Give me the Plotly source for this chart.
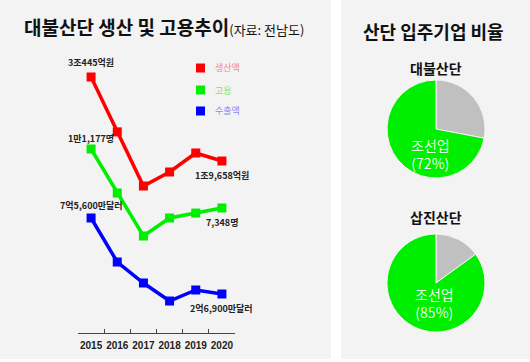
import plotly.graph_objects as go

W, H = 530, 362

years = ["2015", "2016", "2017", "2018", "2019", "2020"]
production = [30445, 23400, 16450, 18250, 20690, 19658]   # 억원
employment = [11177, 8320, 5530, 6700, 7020, 7348]        # 명
exports = [75600, 47400, 33950, 22400, 29460, 26900]      # 만달러

series_names = ["생산액", "고용", "수출액"]
series_colors = ["#ff0000", "#00ee00", "#0000ff"]
legend_text_colors = ["#f08a8a", "#7fe07f", "#8a8af0"]

first_labels = ["3조445억원", "1만1,177명", "7억5,600만달러"]
last_labels = ["1조9,658억원", "7,348명", "2억6,900만달러"]

pie_titles = ["대불산단", "삽진산단"]
pie_labels = ["기타", "조선업"]
pie_values = [[28, 72], [15, 85]]
pie_colors = ["#c0c0c0", "#00ee00"]

FONT = "Noto Sans CJK KR"


def px(x):
    return x / W


def py(y):
    return 1 - y / H


fig = go.Figure()

axes = ["y", "y2", "y3"]
data = [production, employment, exports]
for name, vals, col, ax in zip(series_names, data, series_colors, axes):
    fig.add_trace(go.Scatter(
        x=years, y=vals, yaxis=ax, mode="lines+markers", name=name,
        line=dict(color=col, width=3.5),
        marker=dict(symbol="square", size=9, color=col),
        showlegend=False, hoverinfo="skip"))

# pies
pie_centers = [(436, 129), (436, 283)]
R = 49
for i, (vals, (cx, cy)) in enumerate(zip(pie_values, pie_centers)):
    fig.add_trace(go.Pie(
        labels=pie_labels, values=vals, sort=False, direction="clockwise",
        rotation=0, textinfo="none", showlegend=False, hoverinfo="skip",
        marker=dict(colors=pie_colors, line=dict(color="#f4f4f4", width=1)),
        domain=dict(x=[px(cx - R), px(cx + R)], y=[py(cy + R), py(cy - R)])))

shapes = [
    dict(type="rect", xref="paper", yref="paper", x0=px(0), x1=px(331),
         y0=py(359), y1=py(0), fillcolor="#f3f3f3", line=dict(width=0), layer="below"),
    dict(type="rect", xref="paper", yref="paper", x0=px(341), x1=px(530),
         y0=py(359), y1=py(0), fillcolor="#f3f3f3", line=dict(width=0), layer="below"),
]

annotations = []


def ann(x, y, text, size, color="#111", xanchor="center", **kw):
    d = dict(xref="paper", yref="paper", x=px(x), y=py(y), xanchor=xanchor,
             yanchor="middle", showarrow=False, text=text,
             font=dict(family=FONT, size=size, color=color))
    d.update(kw)
    annotations.append(d)


# titles
ann(22, 27, "<b>대불산단 생산 및 고용추이</b><span style='font-size:13px'>(자료: 전남도)</span>",
    19, xanchor="left")
ann(433, 31, "<b>산단 입주기업 비율</b>", 18)

# legend
legend_y = [68, 90, 111]
for name, col, tcol, ly in zip(series_names, series_colors, legend_text_colors, legend_y):
    shapes.append(dict(type="rect", xref="paper", yref="paper",
                       x0=px(196), x1=px(205), y0=py(ly + 4.5), y1=py(ly - 4.5),
                       fillcolor=col, line=dict(width=0)))
    ann(213, ly, name, 9, color=tcol, xanchor="left")

# data labels (category axis: use category index)
first_shift = [14, 10, 12]
last_shift = [-14, -15, -14]
for vals, ax, fl, ll, fs, ls in zip(data, axes, first_labels, last_labels, first_shift, last_shift):
    annotations.append(dict(xref="x", yref=ax, x=0, y=vals[0], yshift=fs,
                            xanchor="center", yanchor="middle",
                            showarrow=False, text="<b>" + fl + "</b>",
                            font=dict(family=FONT, size=9, color="#222")))
    annotations.append(dict(xref="x", yref=ax, x=len(years) - 1, y=vals[-1], yshift=ls,
                            xanchor="center", yanchor="middle",
                            showarrow=False, text="<b>" + ll + "</b>",
                            font=dict(family=FONT, size=9, color="#222")))

# pie titles and labels
pie_title_y = [68, 217]
pie_text_y = [154, 303]
pie_text_x = [430, 434]
for t, ty, vals, tyy, tx in zip(pie_titles, pie_title_y, pie_values, pie_text_y, pie_text_x):
    ann(436, ty, "<b>" + t + "</b>", 14)
    ann(tx, tyy, pie_labels[1] + "<br>(%d%%)" % vals[1], 14,
        color="rgba(255,255,255,0.92)")

ydom = [py(333), py(40)]
hidden = dict(visible=False, domain=ydom, fixedrange=True)
fig.update_layout(
    width=W, height=H, margin=dict(l=0, r=0, t=0, b=0),
    paper_bgcolor="white", plot_bgcolor="rgba(0,0,0,0)",
    xaxis=dict(type="category", domain=[px(78), px(235)], range=[-0.5, 5.5],
               showline=True, linecolor="#444", linewidth=1, showgrid=False,
               zeroline=False, ticks="inside", ticklen=4, tickcolor="#444",
               tickson="boundaries", tickangle=0, automargin=False,
               ticklabelstandoff=3, fixedrange=True,
               tickfont=dict(family="Liberation Sans", size=10, color="#222", weight="bold")),
    yaxis=dict(range=[-2425, 35196], **hidden),
    yaxis2=dict(range=[-765, 18251], overlaying="y", **hidden),
    yaxis3=dict(range=[1908, 189662], overlaying="y", **hidden),
    shapes=shapes, annotations=annotations,
)

fig.write_html("out.html", config={"displayModeBar": False},
               post_script="document.body.style.margin='0';document.body.style.padding='0';")
